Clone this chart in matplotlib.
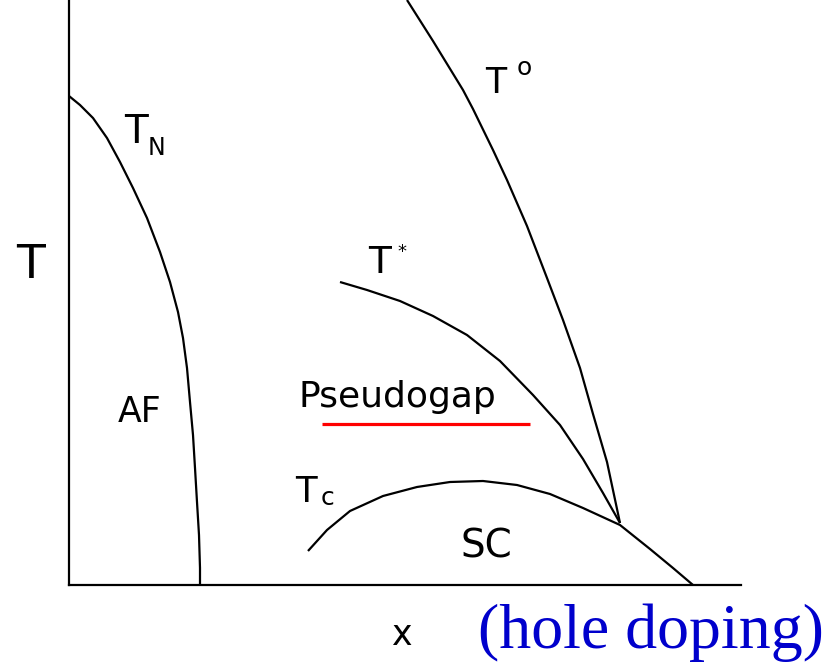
import matplotlib
matplotlib.use("Agg")
import matplotlib.pyplot as plt

# Phase-diagram curves (doping x, temperature T) in arbitrary units
tn_x = [0, 11, 24, 38, 51, 64, 78, 91, 101, 109, 114, 118, 121, 124, 126, 128, 130, 131, 131]
tn_t = [489, 480, 467, 447, 423, 397, 367, 333, 303, 273, 247, 217, 183, 150, 117, 83, 50, 17, 0]

to_x = [338, 364, 394, 404, 424, 438, 458, 478, 494, 511, 524, 538, 551]
to_t = [585, 544, 495, 476, 435, 405, 359, 307, 265, 217, 171, 123, 62]

ts_x = [271, 298, 331, 364, 398, 431, 464, 491, 514, 534, 551]
ts_t = [303, 295, 284, 269, 250, 224, 190, 160, 126, 92, 62]

tc_x = [239, 258, 281, 314, 348, 381, 414, 448, 481, 514, 551, 581, 604, 624]
tc_t = [34, 55, 74, 89, 98, 103, 104, 100, 91, 77, 60, 36, 17, 0]

underline_x = [253, 461]
underline_t = [161, 161]

W, H = 827, 663
fig = plt.figure(figsize=(W / 100, H / 100), dpi=100)
ax = fig.add_axes([69 / W, (H - 585) / H, 672 / W, 585 / H])
ax.set_xlim(0, 672)
ax.set_ylim(0, 585)
for s in ("top", "right"):
    ax.spines[s].set_visible(False)
for s in ("left", "bottom"):
    ax.spines[s].set_linewidth(1.6)
    ax.spines[s].set_color("black")
ax.set_xticks([])
ax.set_yticks([])

lw = 1.6
for xs, ts in ((tn_x, tn_t), (to_x, to_t), (ts_x, ts_t), (tc_x, tc_t)):
    ax.plot(xs, ts, color="black", lw=lw, solid_joinstyle="round",
            solid_capstyle="butt")
ax.plot(underline_x, underline_t, color="#ff0000", lw=2.3, solid_capstyle="butt")

fam = "DejaVu Sans"
def txt(x, y, s, size, ha="center", va="baseline", **kw):
    ax.text(x, y, s, fontsize=size, ha=ha, va=va, family=kw.pop("family", fam),
            clip_on=False, **kw)

txt(-38, 307, "T", 34)
txt(66.5, 442, "T", 28)
txt(87, 430, "N", 17)
txt(427, 492, "T", 25)
txt(455, 510, "o", 18)
txt(311, 312, "T", 27)
txt(332.5, 342, "*", 13, va="top")
txt(230, 178, "Pseudogap", 26, ha="left")
txt(71, 163, "AF", 25)
txt(237, 83, "T", 25.5)
txt(259, 80, "c", 18)
txt(417, 27, "SC", 28)
txt(333.5, -60, "x", 25)
txt(409, -63, "(hole doping)", 46, ha="left", family="Liberation Serif", color="#0000cc")

fig.savefig("out.png", dpi=100)
